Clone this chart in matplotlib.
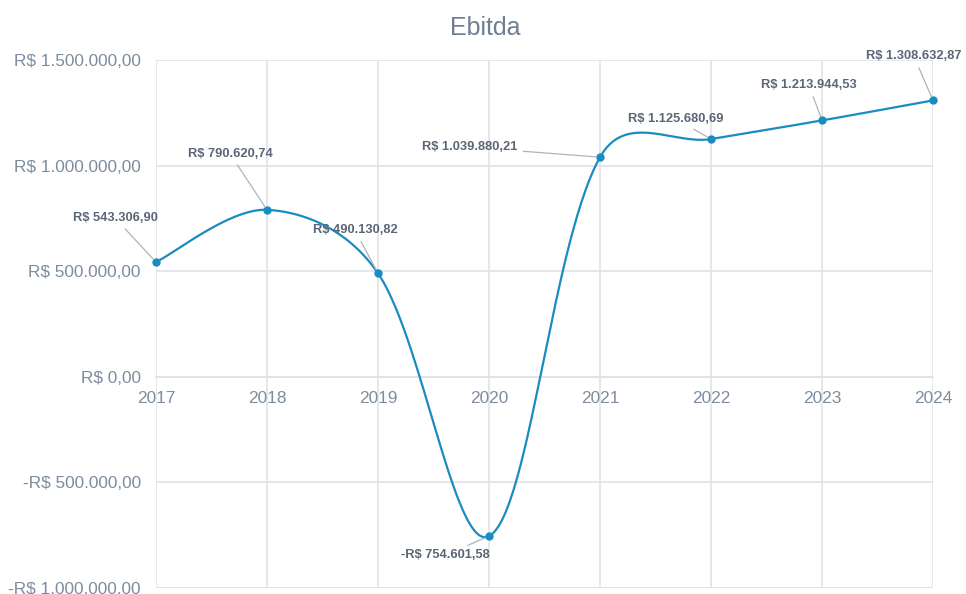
import numpy as np
import matplotlib
matplotlib.use('Agg')
import matplotlib.pyplot as plt
from matplotlib.ticker import FuncFormatter

plt.rcParams['font.family'] = ['Liberation Sans', 'DejaVu Sans']

years = [2017, 2018, 2019, 2020, 2021, 2022, 2023, 2024]
ebitda = [543306.90, 790620.74, 490130.82, -754601.58,
          1039880.21, 1125680.69, 1213944.53, 1308632.87]
yticks = [-1000000, -500000, 0, 500000, 1000000, 1500000]

# label offsets from each point, in pixels
label_offsets = [(-41, 44), (-37, 56), (-23, 43), (-44, -19),
                 (-130, 10), (-35, 20), (-13, 35), (-19, 44)]

LINE = '#1a8cbf'
GRID = '#dfe3e8'
TICK = '#7d8c9e'
LABEL = '#5a6676'


def brl(v, pos=None):
    """Format a number as Brazilian currency"""
    s = '{:,.2f}'.format(abs(v)).replace(',', 'X').replace('.', ',').replace('X', '.')
    return ('-R$ ' if v < 0 else 'R$ ') + s


def smooth(px, py, npts=60):
    """
    Bezier smoothing through every point, done in pixel space.
    Tangent lengths are split by the square root of the neighbouring chord lengths.
    """
    P = np.column_stack([px, py]).astype(float)
    n = len(P)
    cin = np.zeros_like(P)
    cout = np.zeros_like(P)
    for i in range(n):
        prv = P[max(i - 1, 0)]
        nxt = P[min(i + 1, n - 1)]
        d = nxt - prv
        if i == 0 or i == n - 1:
            cin[i] = P[i] - d / 6.
            cout[i] = P[i] + d / 6.
            continue
        lp = np.sqrt(np.hypot(*(P[i] - prv)))
        ln = np.sqrt(np.hypot(*(nxt - P[i])))
        cin[i] = P[i] - d * lp / (lp + ln) / 3.
        cout[i] = P[i] + d * ln / (lp + ln) / 3.
    t = np.linspace(0, 1, npts)[:, None]
    segs = []
    for i in range(n - 1):
        seg = ((1 - t) ** 3 * P[i] + 3 * (1 - t) ** 2 * t * cout[i]
               + 3 * (1 - t) * t ** 2 * cin[i + 1] + t ** 3 * P[i + 1])
        segs.append(seg)
    return np.vstack(segs)


fig = plt.figure(figsize=(9.66, 5.94), dpi=100)
ax = fig.add_axes([156 / 966., 1 - 588 / 594., (933 - 156) / 966., (588 - 60) / 594.])

ax.set_xlim(years[0], years[-1])
ax.set_ylim(yticks[0], yticks[-1])

# smooth the curve in display space so both axes are weighted evenly
pts = ax.transData.transform(np.column_stack([years, ebitda]))
curve = ax.transData.inverted().transform(smooth(pts[:, 0], pts[:, 1]))
ax.plot(curve[:, 0], curve[:, 1], color=LINE, lw=1.6, zorder=3, clip_on=False)
ax.plot(years, ebitda, 'o', color=LINE, ms=5, zorder=4, clip_on=False)

for yr, val, off in zip(years, ebitda, label_offsets):
    ax.annotate(brl(val), xy=(yr, val), xytext=off, textcoords='offset pixels',
                ha='center', va='center', fontsize=9.3, fontweight='bold', color=LABEL,
                arrowprops=dict(arrowstyle='-', color='#aab5c0', lw=0.9,
                                shrinkA=2, shrinkB=3),
                zorder=5, annotation_clip=False)

ax.set_xticks(years)
ax.set_yticks(yticks)
ax.yaxis.set_major_formatter(FuncFormatter(brl))
ax.grid(True, color=GRID, lw=1.2)
ax.set_axisbelow(True)

ax.spines['bottom'].set_position(('data', 0))
ax.spines['bottom'].set_color(GRID)
ax.spines['bottom'].set_linewidth(1.2)
for side in ['left', 'right', 'top']:
    ax.spines[side].set_visible(False)
# keep a gridline at the bottom edge
ax.axhline(yticks[0], color=GRID, lw=1.2, zorder=0)

ax.tick_params(axis='both', length=0, labelsize=12.4, colors=TICK)
ax.tick_params(axis='y', pad=11)
ax.tick_params(axis='x', pad=10)

fig.text(485 / 966., 1 - 28 / 594., 'Ebitda', ha='center', va='center',
         fontsize=18, color='#6e7f91')

fig.savefig('out.png', dpi=100, facecolor='white')
